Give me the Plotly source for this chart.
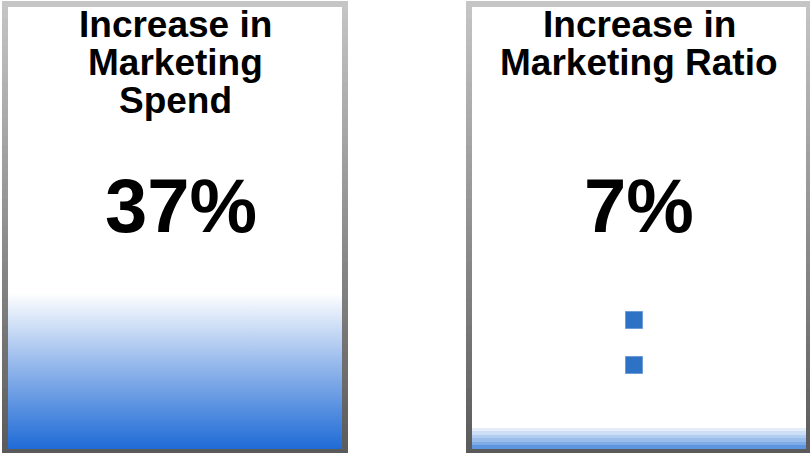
import plotly.graph_objects as go

# ---- data ---------------------------------------------------------------
panel_titles = [["Increase in", "Marketing", "Spend"],
                ["Increase in", "Marketing Ratio"]]
increase_pct = [37, 7]
value_labels = ["37%", "7%"]
ratio_marker_levels = [31, 21]

# ---- geometry / styling --------------------------------------------------
W, H = 810, 453
inner_x = [(8, 342), (472, 806)]      # plot areas in px
outer_x = [(2, 348), (466, 810)]      # frame outer edge in px
inner_top, inner_bottom = 7, 449
outer_top, outer_bottom = 1, 453
y_floor, y_ceiling = 2.33, 100.55
FONT = "Liberation Sans, Arial, sans-serif"

fill_scales = [
    [[0, "#1f6bd6"], [0.5, "#8cb2ea"], [1, "#ffffff"]],
    None,
]
# stepped bands for the short fill
band_cols = ["#5d95e0", "#7eaae6", "#9bbdec", "#b3cdf1", "#cddff6", "#e5edfa"]
step = []
n = len(band_cols)
for i, c in enumerate(band_cols):
    step.append([i / n, c])
    step.append([(i + 1) / n - 1e-6 if i < n - 1 else 1.0, c])
fill_scales[1] = step


def px_x(p):
    return p / W


def px_y(p):
    return 1 - p / H


fig = go.Figure()
axis_names = [("x", "y"), ("x2", "y2")]

for i, v in enumerate(increase_pct):
    xa, ya = axis_names[i]
    fig.add_trace(go.Scatter(
        x=[0, 1], y=[v, v], xaxis=xa, yaxis=ya,
        mode="lines", line=dict(width=0, color="rgba(0,0,0,0)"),
        fill="tozeroy",
        fillgradient=dict(type="vertical", colorscale=fill_scales[i],
                          start=y_floor, stop=v),
        hoverinfo="skip", showlegend=False,
    ))

# two small square markers in the ratio panel
fig.add_trace(go.Scatter(
    x=[0.485] * len(ratio_marker_levels), y=ratio_marker_levels,
    xaxis="x2", yaxis="y2", mode="markers",
    marker=dict(symbol="square", size=17, color="#2e72c6",
                line=dict(width=1, color="#6e9ad6")),
    hoverinfo="skip", showlegend=False,
))

layout = dict(
    width=W, height=H, margin=dict(l=0, r=0, t=0, b=0),
    paper_bgcolor="white", plot_bgcolor="white", showlegend=False,
)
ydom = [px_y(inner_bottom), px_y(inner_top)]
for i, (xa, ya) in enumerate(axis_names):
    sfx = "" if i == 0 else "2"
    layout["xaxis" + sfx] = dict(domain=[px_x(inner_x[i][0]), px_x(inner_x[i][1])],
                                 range=[0, 1], visible=False, fixedrange=True,
                                 anchor=ya)
    layout["yaxis" + sfx] = dict(domain=ydom, range=[y_floor, y_ceiling],
                                 visible=False, fixedrange=True, anchor=xa)
fig.update_layout(**layout)

# ---- gradient grey frames -------------------------------------------------
def grey_at(py):
    g = int(round(198 - (198 - 90) * py / H))
    return f"rgb({g},{g},{g})"


shapes = []
for i in range(2):
    ox0, ox1 = outer_x[i]
    ix0, ix1 = inner_x[i]
    seg = 9
    y = outer_top
    while y < outer_bottom:
        y2 = min(y + seg, outer_bottom)
        col = grey_at((y + y2) / 2)
        for a, b in ((ox0, ix0), (ix1, ox1)):
            shapes.append(dict(type="rect", xref="paper", yref="paper",
                               x0=px_x(a), x1=px_x(b), y0=px_y(y2), y1=px_y(y),
                               line=dict(width=0), fillcolor=col, layer="above"))
        y = y2
    shapes.append(dict(type="rect", xref="paper", yref="paper",
                       x0=px_x(ix0), x1=px_x(ix1), y0=px_y(inner_top), y1=px_y(outer_top),
                       line=dict(width=0), fillcolor=grey_at(3), layer="above"))
    shapes.append(dict(type="rect", xref="paper", yref="paper",
                       x0=px_x(ix0), x1=px_x(ix1), y0=px_y(outer_bottom), y1=px_y(inner_bottom),
                       line=dict(width=0), fillcolor=grey_at(452), layer="above"))
fig.update_layout(shapes=shapes)

# ---- texts -------------------------------------------------------------
title_rows_px = [24.5, 62.5, 100.5]
value_row_px = 205.5
value_shift = [6, 0]
ann = []
for i in range(2):
    xd = "x domain" if i == 0 else "x2 domain"
    for j, line in enumerate(panel_titles[i]):
        ann.append(dict(text=f"<b>{line}</b>", xref=xd, yref="paper", x=0.5,
                        y=px_y(title_rows_px[j]), xanchor="center", yanchor="middle",
                        showarrow=False, font=dict(family=FONT, size=37, color="black")))
    ann.append(dict(text=f"<b>{value_labels[i]}</b>", xref=xd, yref="paper", x=0.5,
                    y=px_y(value_row_px), xanchor="center", yanchor="middle",
                    xshift=value_shift[i], showarrow=False,
                    font=dict(family=FONT, size=76, color="black")))
fig.update_layout(annotations=ann)

fig.write_html("out.html")
